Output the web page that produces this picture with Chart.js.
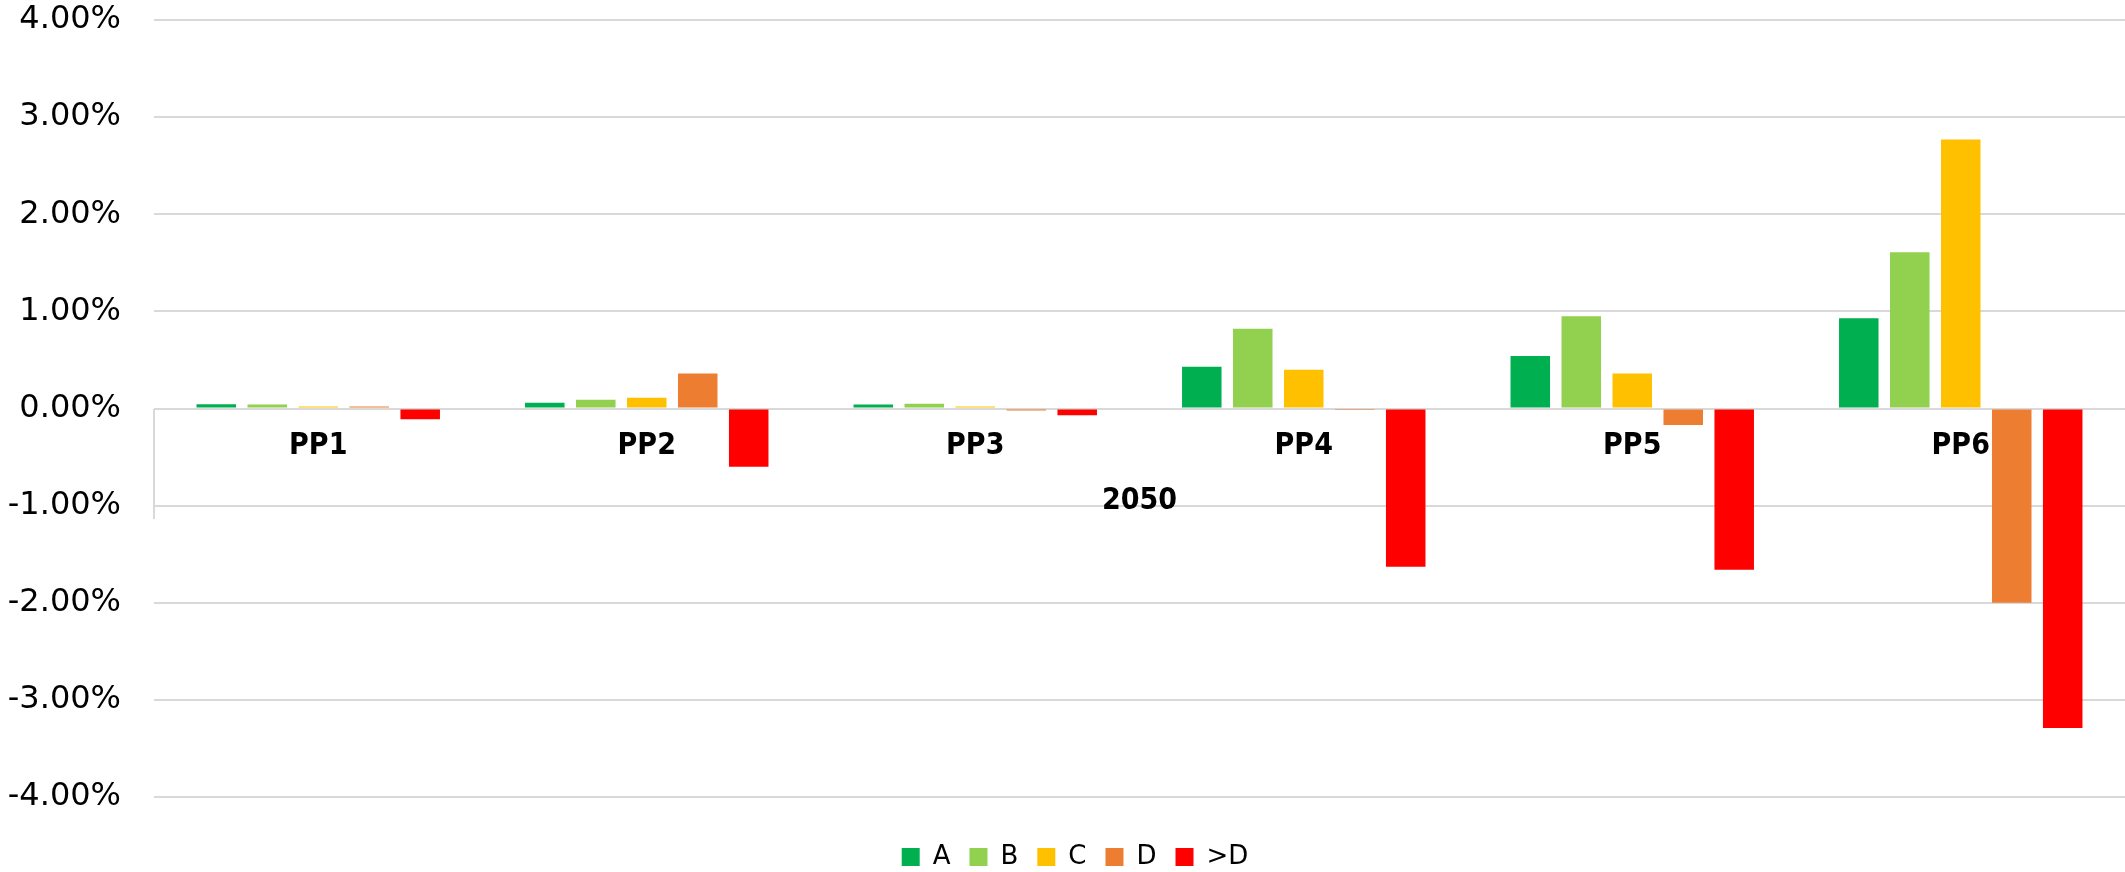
<!DOCTYPE html>
<html>
<head>
<meta charset="utf-8">
<script src="https://cdn.jsdelivr.net/npm/chart.js@4.4.1/dist/chart.umd.min.js"></script>
<style>
  html, body { margin: 0; padding: 0; background: #ffffff; }
  #wrap { width: 2125px; height: 872px; position: relative; }
</style>
</head>
<body>
<div id="wrap"><canvas id="c"></canvas></div>
<script>
// ---- data (percent) ----
const categories = ['PP1', 'PP2', 'PP3', 'PP4', 'PP5', 'PP6'];
const groupLabels = ['2050'];
const seriesNames = ['A', 'B', 'C', 'D', '>D'];
const seriesA = [0.045, 0.06, 0.04, 0.43, 0.54, 0.93];
const seriesB = [0.04, 0.09, 0.05, 0.82, 0.95, 1.61];
const seriesC = [0.02, 0.11, 0.02, 0.40, 0.36, 2.77];
const seriesD = [0.02, 0.36, -0.02, -0.005, -0.17, -2.00];
const seriesE = [-0.11, -0.60, -0.07, -1.63, -1.66, -3.29];
const yTicks = [-4, -3, -2, -1, 0, 1, 2, 3, 4];

const colors = ['#00B050', '#92D050', '#FFC000', '#ED7D31', '#FF0000'];
const seriesValues = [seriesA, seriesB, seriesC, seriesD, seriesE];

const gridColor = '#d9d9d9';
const labelFamily = "'DejaVu Sans', Verdana, sans-serif";
const boldFamily = "'DejaVu Sans Condensed', 'DejaVu Sans', sans-serif";

const datasets = seriesNames.map((name, i) => ({
  label: name,
  data: seriesValues[i],
  backgroundColor: colors[i],
  borderWidth: 0,
  xAxisID: 'x',
  yAxisID: 'y',
  categoryPercentage: 0.776,
  barPercentage: 0.775
}));

const zeroHeight = function (scale) { scale.height = 0; };

// nudge the legend block so it is centred like the original
const legendShift = {
  id: 'legendShift',
  afterLayout(chart) {
    if (chart.legend) { chart.legend.left += 21; }
  }
};

new Chart(document.getElementById('c'), {
  type: 'bar',
  data: { labels: categories, datasets: datasets },
  plugins: [legendShift],
  options: {
    responsive: true,
    maintainAspectRatio: false,
    animation: false,
    layout: { padding: { left: 4, right: 0, top: 20, bottom: 0 } },
    plugins: {
      tooltip: { enabled: false },
      legend: {
        position: 'bottom',
        maxHeight: 75,
        title: {
          display: true,
          text: ' ',
          font: { size: 10, lineHeight: 1 },
          padding: { top: 9, bottom: 9 }
        },
        labels: {
          boxWidth: 18,
          boxHeight: 18,
          padding: 19,
          color: '#000000',
          font: { family: labelFamily, size: 26 }
        }
      }
    },
    scales: {
      x: {
        type: 'category',
        axis: 'x',
        position: { y: 0 },
        offset: true,
        afterFit: zeroHeight,
        grid: { display: false, drawTicks: false, offset: true },
        border: { display: false },
        ticks: {
          color: '#000000',
          padding: 20,
          maxRotation: 0,
          autoSkip: false,
          font: { family: boldFamily, size: 30, weight: 'bold' }
        }
      },
      x2: {
        type: 'category',
        axis: 'x',
        labels: groupLabels,
        position: { y: 0 },
        offset: true,
        afterFit: zeroHeight,
        grid: {
          display: true,
          offset: true,
          drawOnChartArea: false,
          drawTicks: true,
          tickLength: 110,
          color: function (ctx) { return ctx.index === 0 ? gridColor : 'rgba(0,0,0,0)'; },
          lineWidth: 2
        },
        border: { display: false },
        ticks: {
          color: '#000000',
          padding: -35,
          maxRotation: 0,
          autoSkip: false,
          font: { family: boldFamily, size: 30, weight: 'bold' }
        }
      },
      y: {
        type: 'linear',
        min: -4,
        max: 4,
        afterBuildTicks: function (scale) {
          scale.ticks = yTicks.map(v => ({ value: v }));
        },
        afterFit: function (scale) {
          scale.width = 150;
          scale.paddingTop = 0;
          scale.paddingBottom = 0;
        },
        grid: {
          color: gridColor,
          lineWidth: 2,
          drawTicks: false
        },
        border: { display: false },
        ticks: {
          color: '#000000',
          padding: 33,
          font: { family: labelFamily, size: 32 },
          callback: function (v) { return Number(v).toFixed(2) + '%'; }
        }
      }
    }
  }
});
</script>
</body>
</html>
